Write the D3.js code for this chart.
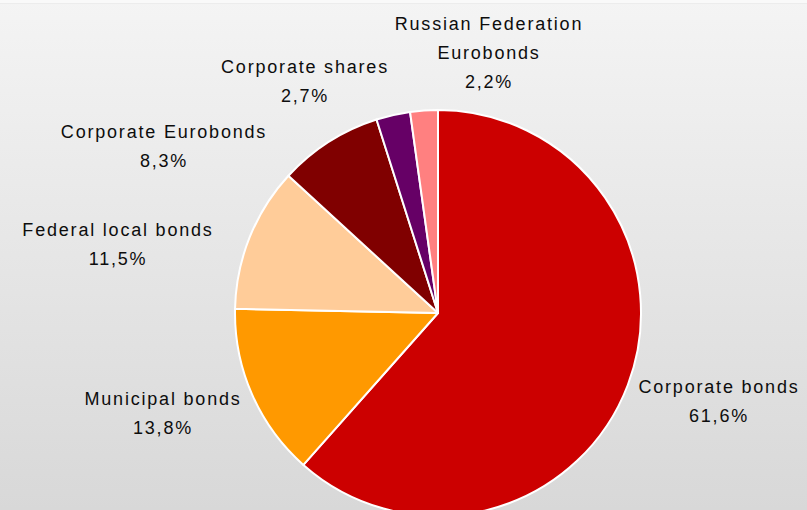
<!DOCTYPE html>
<html>
<head>
<meta charset="utf-8">
<script src="https://cdn.jsdelivr.net/npm/d3@7"></script>
<style>
  html, body { margin: 0; padding: 0; background: #fff; }
  svg { display: block; }
</style>
</head>
<body>
<svg id="chart" width="807" height="510"></svg>
<script>
// Portfolio structure by instrument type, shares in percent
const categories = [
  ["Corporate bonds"],
  ["Municipal bonds"],
  ["Federal local bonds"],
  ["Corporate Eurobonds"],
  ["Corporate shares"],
  ["Russian Federation", "Eurobonds"]
];
const values = [61.6, 13.8, 11.5, 8.3, 2.7, 2.2];
const valueLabels = ["61,6%", "13,8%", "11,5%", "8,3%", "2,7%", "2,2%"];
const colors = ["#cc0000", "#ff9900", "#ffcc99", "#800000", "#660066", "#ff8080"];

const W = 807, H = 510;
const cx = 438, cy = 313, R = 203;

// Label anchor (centre x, first baseline y) relative to the pie centre
const labelAnchors = [
  [281, 80], [-275, 92], [-320, -77], [-274, -175], [-133, -240], [51, -283]
];
const lineH = 29;

const svg = d3.select("#chart");

const defs = svg.append("defs");
const grad = defs.append("linearGradient")
  .attr("id", "bg").attr("x1", 0).attr("y1", 0).attr("x2", 0).attr("y2", 1);
grad.append("stop").attr("offset", "0%").attr("stop-color", "#f4f4f4");
grad.append("stop").attr("offset", "100%").attr("stop-color", "#d8d8d8");

svg.append("rect").attr("width", W).attr("height", H).attr("fill", "url(#bg)");
svg.append("rect").attr("width", W).attr("height", 3).attr("fill", "#f9f9f9");
svg.append("line").attr("x1", 0).attr("x2", W).attr("y1", 3.5).attr("y2", 3.5)
  .attr("stroke", "#ececec").attr("stroke-width", 1);

const pie = d3.pie().sort(null).value(d => d)
  .startAngle(0).endAngle(2 * Math.PI);
const arcs = pie(values);
const arc = d3.arc().innerRadius(0).outerRadius(R);

const g = svg.append("g").attr("transform", `translate(${cx},${cy})`);

g.selectAll("path.slice")
  .data(arcs)
  .join("path")
  .attr("class", "slice")
  .attr("d", arc)
  .attr("fill", (d, i) => colors[i])
  .attr("stroke", "#ffffff")
  .attr("stroke-width", 2)
  .attr("stroke-linejoin", "round");

const labels = g.selectAll("text.lbl")
  .data(arcs)
  .join("text")
  .attr("class", "lbl")
  .attr("text-anchor", "middle")
  .attr("font-family", "'Liberation Sans', Arial, sans-serif")
  .attr("font-size", 18)
  .attr("letter-spacing", "1.8px")
  .attr("fill", "#0d0d0d");

labels.each(function(d, i) {
  const t = d3.select(this);
  const [ax, ay] = labelAnchors[i];
  const lines = categories[i].concat([valueLabels[i]]);
  lines.forEach((s, k) => {
    t.append("tspan").attr("x", ax).attr("y", ay + k * lineH).text(s);
  });
});
</script>
</body>
</html>
